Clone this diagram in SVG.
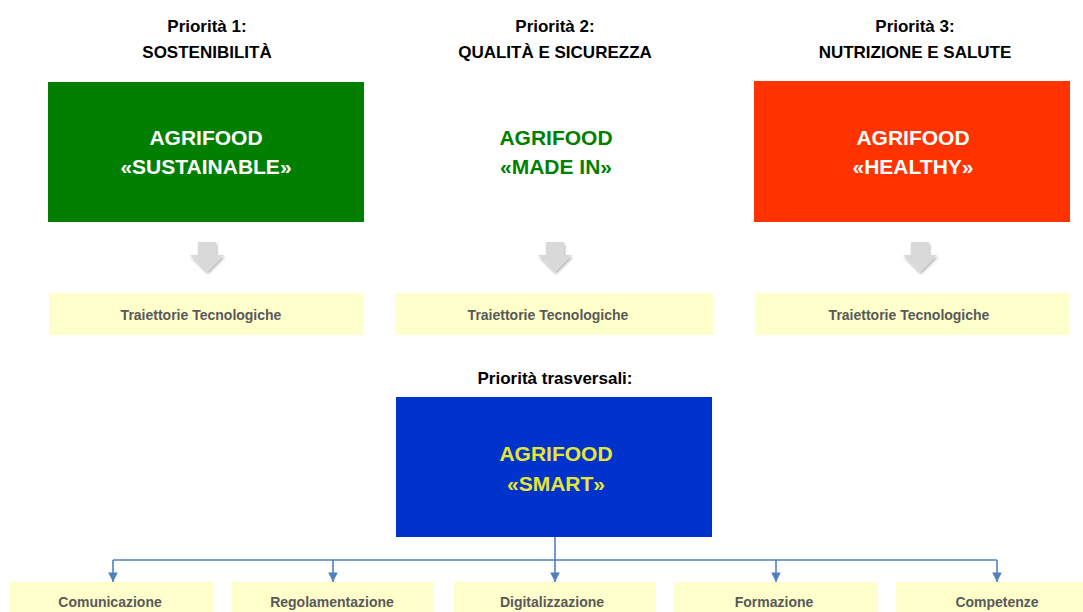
<svg xmlns="http://www.w3.org/2000/svg" width="1083" height="612" viewBox="0 0 1083 612">
<defs>
<style>
.hdr{font-family:"Liberation Sans",Arial,sans-serif;font-weight:bold;font-size:17px;fill:#000;text-anchor:middle}
.big{font-family:"Liberation Sans",Arial,sans-serif;font-weight:bold;font-size:21px;text-anchor:middle}
.sm{font-family:"Liberation Sans",Arial,sans-serif;font-weight:bold;font-size:14px;fill:#595959;text-anchor:middle}
.yb{fill:#FFFFCC}
.ga{fill:#D9D9D9}
.conn{fill:none;stroke:#4F81BD;stroke-width:1.6}
</style>
<marker id="ah" viewBox="0 0 10 10" refX="10" refY="5" markerWidth="6" markerHeight="6" markerUnits="strokeWidth" orient="auto">
<path d="M0,0 L10,5 L0,10 z" fill="#4F81BD"/>
</marker>
<filter id="sh" x="-30%" y="-30%" width="160%" height="160%">
<feGaussianBlur in="SourceAlpha" stdDeviation="1.5"/>
<feOffset dx="1" dy="2" result="b"/>
<feComponentTransfer><feFuncA type="linear" slope="0.3"/></feComponentTransfer>
<feMerge><feMergeNode/><feMergeNode in="SourceGraphic"/></feMerge>
</filter>
<path id="garrow" d="M-9,0 L9,0 L9,13 L17,13 L0,30 L-17,13 L-9,13 z"/>
</defs>
<rect width="1083" height="612" fill="#fff"/>

<g id="col1">
<text class="hdr" x="207" y="32">Priorità 1:</text>
<text class="hdr" x="207" y="58">SOSTENIBILITÀ</text>
<rect x="48" y="82" width="316" height="140" fill="#007F00"/>
<text class="big" x="206" y="145" fill="#fff">AGRIFOOD</text>
<text class="big" x="206" y="174" fill="#fff">«SUSTAINABLE»</text>
</g>
<g id="col2">
<text class="hdr" x="555" y="32">Priorità 2:</text>
<text class="hdr" x="555" y="58">QUALITÀ E SICUREZZA</text>
<text class="big" x="556" y="145" fill="#007F00">AGRIFOOD</text>
<text class="big" x="556" y="174" fill="#007F00">«MADE IN»</text>
</g>
<g id="col3">
<text class="hdr" x="915" y="32">Priorità 3:</text>
<text class="hdr" x="915" y="58">NUTRIZIONE E SALUTE</text>
<rect x="754" y="81" width="316" height="141" fill="#FF3300"/>
<text class="big" x="913" y="145" fill="#fff">AGRIFOOD</text>
<text class="big" x="913" y="174" fill="#fff">«HEALTHY»</text>
</g>

<g id="arrows">
<use href="#garrow" x="207" y="242" class="ga" filter="url(#sh)"/>
<use href="#garrow" x="555" y="242" class="ga" filter="url(#sh)"/>
<use href="#garrow" x="920" y="242" class="ga" filter="url(#sh)"/>
</g>

<g id="traj1"><rect class="yb" x="49" y="293" width="314" height="42"/><text class="sm" x="201" y="320">Traiettorie Tecnologiche</text></g>
<g id="traj2"><rect class="yb" x="395" y="293" width="318" height="42"/><text class="sm" x="548" y="320">Traiettorie Tecnologiche</text></g>
<g id="traj3"><rect class="yb" x="755" y="293" width="314" height="42"/><text class="sm" x="909" y="320">Traiettorie Tecnologiche</text></g>

<g id="smart">
<text class="hdr" x="555" y="384">Priorità trasversali:</text>
<rect x="396" y="397" width="316" height="140" fill="#0033CC"/>
<text class="big" x="556" y="461" fill="#E6E633">AGRIFOOD</text>
<text class="big" x="556" y="491" fill="#E6E633">«SMART»</text>
</g>

<g id="connectors">
<path class="conn" d="M555,537 V560"/>
<path class="conn" d="M113,560 H997"/>
<path class="conn" d="M113,560 V582" marker-end="url(#ah)"/>
<path class="conn" d="M333,560 V582" marker-end="url(#ah)"/>
<path class="conn" d="M555,560 V582" marker-end="url(#ah)"/>
<path class="conn" d="M776,560 V582" marker-end="url(#ah)"/>
<path class="conn" d="M997,560 V582" marker-end="url(#ah)"/>
</g>

<g id="b1"><rect class="yb" x="10" y="582" width="203" height="40"/><text class="sm" x="110" y="607">Comunicazione</text></g>
<g id="b2"><rect class="yb" x="232" y="582" width="201" height="40"/><text class="sm" x="332" y="607">Regolamentazione</text></g>
<g id="b3"><rect class="yb" x="454" y="582" width="202" height="40"/><text class="sm" x="552" y="607">Digitalizzazione</text></g>
<g id="b4"><rect class="yb" x="674" y="582" width="204" height="40"/><text class="sm" x="774" y="607">Formazione</text></g>
<g id="b5"><rect class="yb" x="896" y="582" width="187" height="40"/><text class="sm" x="997" y="607">Competenze</text></g>
</svg>
